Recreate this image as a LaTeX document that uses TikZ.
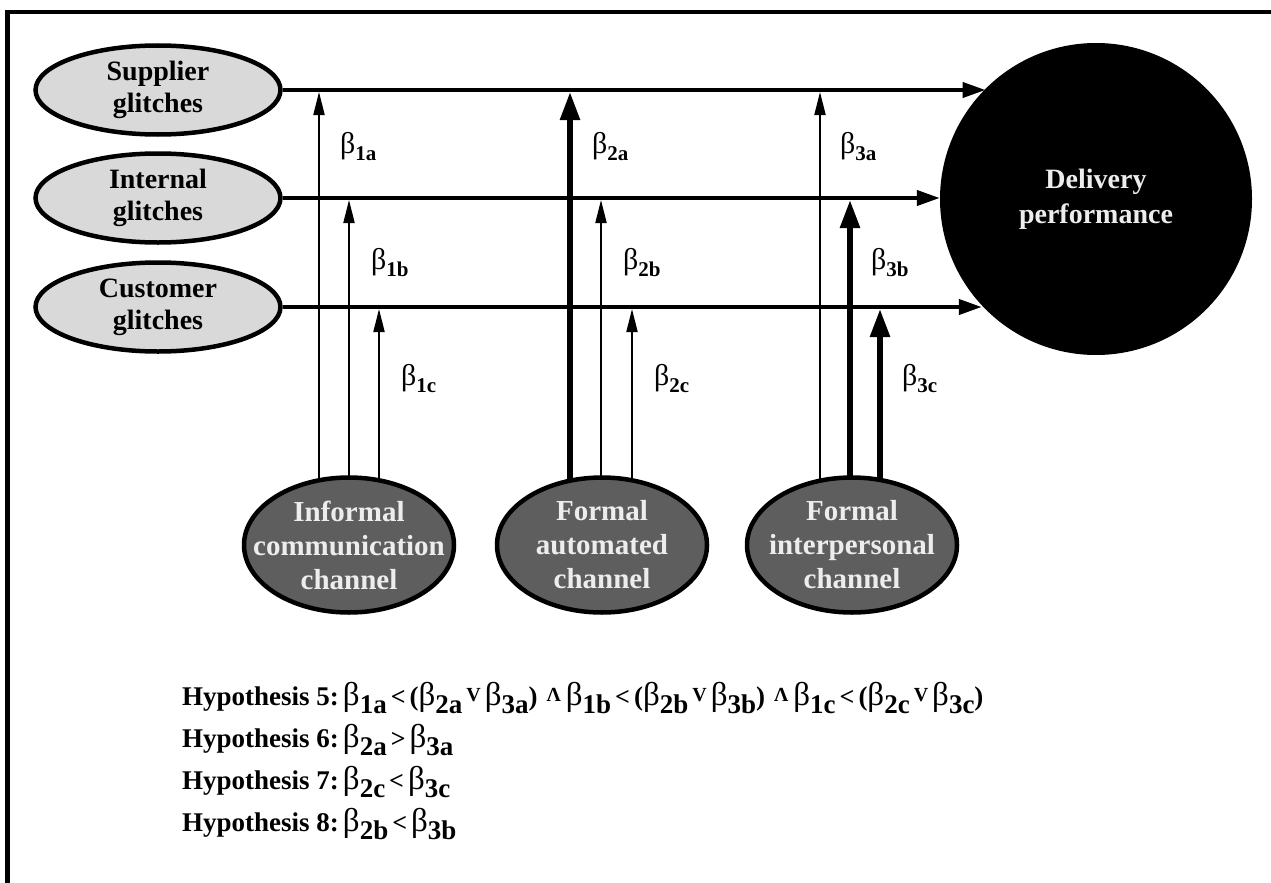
\documentclass[tikz,border=0pt]{standalone}
\usepackage{fontspec}
\setmainfont{Liberation Serif}
\usetikzlibrary{shapes.geometric,arrows.meta}
\pgfdeclarelayer{background}
\pgfsetlayers{background,main}
\definecolor{lightfill}{HTML}{D9D9D9}
\definecolor{darkfill}{HTML}{5E5E5E}
\definecolor{paletext}{HTML}{EDEDED}

% coefficient labels beside the arrows
\newcommand{\Lbeta}[1]{{\mdseries\fontsize{30}{30}\selectfont β}\raisebox{-7pt}{\fontsize{21}{21}\selectfont #1}}
% pieces of the hypothesis formulas
\newcommand{\Hbeta}[1]{{\mdseries\fontsize{33}{33}\selectfont β}\raisebox{-8pt}{#1}}
\newcommand{\Hless}{\hspace{4pt}{\fontsize{26}{26}\selectfont <}\hspace{4pt}}
\newcommand{\Hmore}{\hspace{4pt}{\fontsize{26}{26}\selectfont >}\hspace{4pt}}
\newcommand{\Hvee}{\hspace{4pt}\raisebox{4pt}{\fontsize{20}{20}\selectfont V}\hspace{4pt}}
\newcommand{\Hwedge}{\hspace{9pt}\raisebox{4pt}{\fontsize{20}{20}\selectfont Λ}\hspace{5pt}}

\begin{document}
\begin{tikzpicture}[x=1pt,y=-1pt,
  glitch/.style={ellipse,draw=black,line width=4.5pt,fill=lightfill,
    minimum width=245pt,minimum height=89pt,inner sep=0pt,align=center,
    font=\fontsize{28}{32}\selectfont\bfseries},
  channel/.style={ellipse,draw=black,line width=4.5pt,fill=darkfill,
    minimum width=210pt,minimum height=135pt,inner sep=0pt},
  chantext/.style={align=center,text=paletext,inner sep=0pt,
    font=\fontsize{29}{34}\selectfont\bfseries},
  outcome/.style={circle,fill=black,minimum size=312pt,inner sep=0pt,
    align=center,text=paletext,font=\fontsize{28}{35}\selectfont\bfseries},
  hline/.style={line width=4pt,-{Triangle[length=23pt,width=15pt]}},
  thinup/.style={line width=2pt,-{Triangle[length=23pt,width=11pt]},shorten >=2pt},
  thickup/.style={line width=5.5pt,-{Triangle[length=28pt,width=19pt]},shorten >=2pt},
  coef/.style={anchor=base west,inner sep=0pt,font=\fontsize{26}{26}\selectfont\bfseries},
  hyp/.style={anchor=base west,inner sep=0pt,font=\fontsize{27}{27}\selectfont\bfseries},
]
\useasboundingbox (0,0) rectangle (1271,883);

% frame
\draw[line width=4.5pt] (1271,12) -- (7.5,12) -- (7.5,883);

% glitch sources
\node[glitch] (sup) at (158,90)  {Supplier\\glitches};
\node[glitch] (int) at (158,198) {Internal\\glitches};
\node[glitch] (cus) at (158,307) {Customer\\glitches};

% outcome
\node[outcome] (del) at (1096,199) {Delivery\\performance};

% communication channels
\node[channel] (inf) at (349,545) {};
\node[chantext] (inftxt) at (inf.center) {Informal\\communication\\channel};
\node[channel] (fa) at (602,545) {};
\node[chantext] (fatxt) at (fa.center) {Formal\\automated\\channel};
\node[channel] (fi) at (852,545) {};
\node[chantext] (fitxt) at (fi.center) {Formal\\interpersonal\\channel};

% direct effects
\draw[hline] (sup.east) -- (sup.east -| del.135.7);
\draw[hline] (int.east) -- (int.east -| del.west);
\draw[hline] (cus.east) -- (cus.east -| del.223.8);

% moderating effects, starting behind the channel ellipses
\begin{pgfonlayer}{background}
\fill[white] (0,0) rectangle (1271,883);
\coordinate (s1a) at ([xshift=-30pt]inf.center);
\coordinate (s1b) at (inf.center);
\coordinate (s1c) at ([xshift=30pt]inf.center);
\coordinate (s2a) at ([xshift=-32pt]fa.center);
\coordinate (s2b) at ([xshift=-1pt]fa.center);
\coordinate (s2c) at ([xshift=30pt]fa.center);
\coordinate (s3a) at ([xshift=-32pt]fi.center);
\coordinate (s3b) at ([xshift=-2pt]fi.center);
\coordinate (s3c) at ([xshift=28pt]fi.center);
\draw[thinup]  (s1a) -- (s1a |- sup.east);
\draw[thinup]  (s1b) -- (s1b |- int.east);
\draw[thinup]  (s1c) -- (s1c |- cus.east);
\draw[thickup] (s2a) -- (s2a |- sup.east);
\draw[thinup]  (s2b) -- (s2b |- int.east);
\draw[thinup]  (s2c) -- (s2c |- cus.east);
\draw[thinup]  (s3a) -- (s3a |- sup.east);
\draw[thickup] (s3b) -- (s3b |- int.east);
\draw[thickup] (s3c) -- (s3c |- cus.east);
\end{pgfonlayer}

% coefficient labels
\node[coef] (l1a) at (340,153) {\Lbeta{1a}};
\node[coef] (l1b) at (371,269) {\Lbeta{1b}};
\node[coef] (l1c) at (401,385) {\Lbeta{1c}};
\node[coef] (l2a) at (592,153) {\Lbeta{2a}};
\node[coef] (l2b) at (623,269) {\Lbeta{2b}};
\node[coef] (l2c) at (654,385) {\Lbeta{2c}};
\node[coef] (l3a) at (840,153) {\Lbeta{3a}};
\node[coef] (l3b) at (871,269) {\Lbeta{3b}};
\node[coef] (l3c) at (902,385) {\Lbeta{3c}};

% hypotheses
\node[hyp] (h5) at (182,705) {Hypothesis 5:\hspace{4pt}\Hbeta{1a}\Hless(\Hbeta{2a}\Hvee\Hbeta{3a})\Hwedge\Hbeta{1b}\Hless(\Hbeta{2b}\Hvee\Hbeta{3b})\Hwedge\Hbeta{1c}\Hless(\Hbeta{2c}\Hvee\Hbeta{3c})};
\node[hyp] (h6) at (182,747) {Hypothesis 6:\hspace{4pt}\Hbeta{2a}\Hmore\Hbeta{3a}};
\node[hyp] (h7) at (182,789) {Hypothesis 7:\hspace{4pt}\Hbeta{2c}\Hless\Hbeta{3c}};
\node[hyp] (h8) at (182,831) {Hypothesis 8:\hspace{4pt}\Hbeta{2b}\Hless\Hbeta{3b}};
\end{tikzpicture}
\end{document}
